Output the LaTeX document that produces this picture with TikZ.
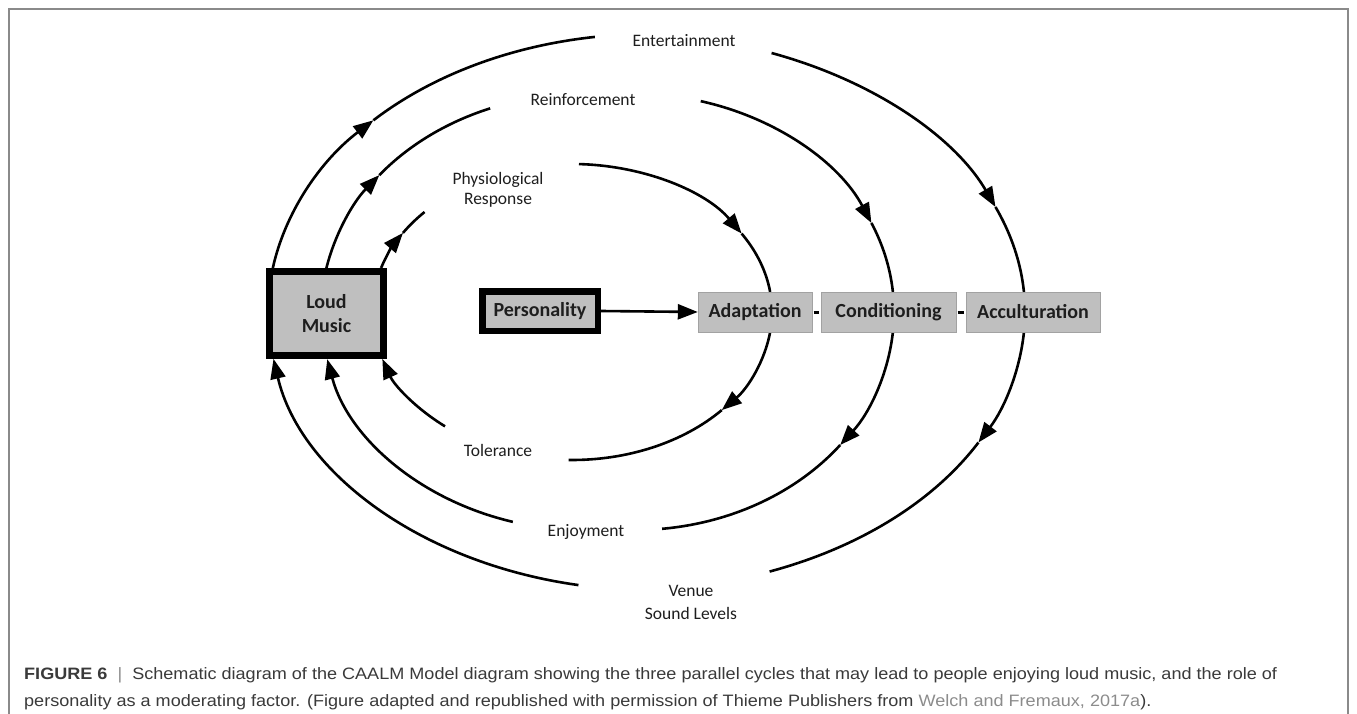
\documentclass[tikz,border=0pt]{standalone}
\usepackage{fontspec}
\setmainfont{Carlito}
\newfontfamily\capfont{Liberation Sans}
\usetikzlibrary{arrows.meta}
\definecolor{boxgray}{HTML}{BFBFBF}
\definecolor{txt}{HTML}{1E1E1E}
\definecolor{capgray}{HTML}{3A3A3A}
\definecolor{linkgray}{HTML}{8C8C8C}
\definecolor{framegray}{HTML}{8A8A8A}
\newcommand\arcmid[6]{%
  \draw[cyc,tipend,shift={(#1,-312)}] (#4:#2pt and #3pt) arc[start angle=#4,end angle=#5,x radius=#2pt,y radius=#3pt];
  \draw[cyc,shift={(#1,-312)}] (#5:#2pt and #3pt) arc[start angle=#5,end angle=#6,x radius=#2pt,y radius=#3pt];}
\newcommand\arcend[5]{%
  \draw[cyc,tipend,shift={(#1,-312)}] (#4:#2pt and #3pt) arc[start angle=#4,end angle=#5,x radius=#2pt,y radius=#3pt];}
\newcommand\capwide[1]{\scalebox{1.095}[1]{#1}}
\begin{document}
\begin{tikzpicture}[x=1pt,y=1pt,
  cyc/.style={line width=2.6pt, draw=black},
  tipend/.style={-{Triangle[length=20pt,width=15pt]}},
  lbl/.style={font=\fontsize{17.5}{20.5}\selectfont, text=txt, inner sep=0pt, align=center},
  bigbox/.style={draw=black, fill=boxgray, line width=7pt, text=txt,
    font=\fontsize{20}{24}\selectfont\bfseries, align=center, inner sep=0pt},
  stagebox/.style={fill=boxgray, draw=boxgray!85!black, line width=0.4pt, text=txt,
    font=\fontsize{20}{24}\selectfont\bfseries, inner sep=0pt, minimum height=40pt},
  dashlink/.style={line width=3pt, draw=black},
  caption/.style={anchor=base west, inner sep=0pt, text=capgray,
    font=\capfont\fontsize{16.5}{19}\selectfont}
]
\useasboundingbox (0,0) rectangle (1357,-714);
\fill[white] (0,0) rectangle (1357,-714);
\draw[framegray, line width=1.3pt] (9,-714) -- (9,-9) -- (1348,-9) -- (1348,-714);

% inner cycle
\arcmid{572}{200}{148}{162.7}{147.7}{137.5}
\arcmid{572}{200}{148}{88}{32}{7.8}
\arcmid{572}{200}{148}{-7.8}{-41.5}{-91}
\arcend{572}{200}{148}{230.6}{198.5}
% middle cycle
\arcmid{584}{263}{218}{168.4}{141.1}{110.9}
\arcmid{635}{259}{218}{75.3}{24.1}{5.3}
\arcmid{635}{259}{218}{-5.3}{-37.6}{-84}
\arcend{584}{263}{218}{254.3}{192.5}
% outer cycle
\arcmid{650}{382}{278}{170.9}{136.4}{98.3}
\arcmid{627}{398}{278}{68.7}{22.2}{4.1}
\arcmid{627}{398}{278}{-4.1}{-28}{-69}
\arcend{650}{382}{278}{259.2}{189.7}

% boxes
\node[bigbox, minimum width=114pt, minimum height=84pt] (loud) at (326.5,-313.5) {Loud\\Music};
\node[bigbox, line width=6.5pt, minimum width=115.5pt, minimum height=39.5pt] (pers) at (540,-311) {Personality};
\node[stagebox, minimum width=114pt] (adapt) at (755,-312) {Adaptation};
\node[stagebox, minimum width=135pt] (cond) at (888.5,-312) {Conditioning};
\node[stagebox, minimum width=134pt] (accul) at (1033,-312) {Acculturation};

\draw[cyc, tipend] (pers.east) -- (adapt.west);
\draw[dashlink] ([xshift=1.5pt]adapt.east) -- ([xshift=-1.5pt]cond.west);
\draw[dashlink] ([xshift=1.5pt]cond.east) -- ([xshift=-1.5pt]accul.west);

% labels
\node[lbl] (ent) at (684,-41) {Entertainment};
\node[lbl] (rein) at (583,-100) {Reinforcement};
\node[lbl] (phys) at (498,-190) {Physiological\\Response};
\node[lbl] (tol) at (498,-450) {Tolerance};
\node[lbl] (enj) at (586,-532) {Enjoyment};
\node[lbl, font=\fontsize{17.5}{23}\selectfont] (venue) at (691,-602) {Venue\\Sound Levels};

% caption
\node[caption] (cap1) at (24,-679) {\capwide{\textbf{FIGURE 6}\ \ {\color{linkgray}|}\ \ Schematic diagram of the CAALM Model diagram showing the three parallel cycles that may lead to people enjoying loud music, and the role of}};
\node[caption] (cap2) at (24,-706) {\capwide{personality as a moderating factor. (Figure adapted and republished with permission of Thieme Publishers from {\color{linkgray}Welch and Fremaux, 2017a}).}};
\end{tikzpicture}
\end{document}
